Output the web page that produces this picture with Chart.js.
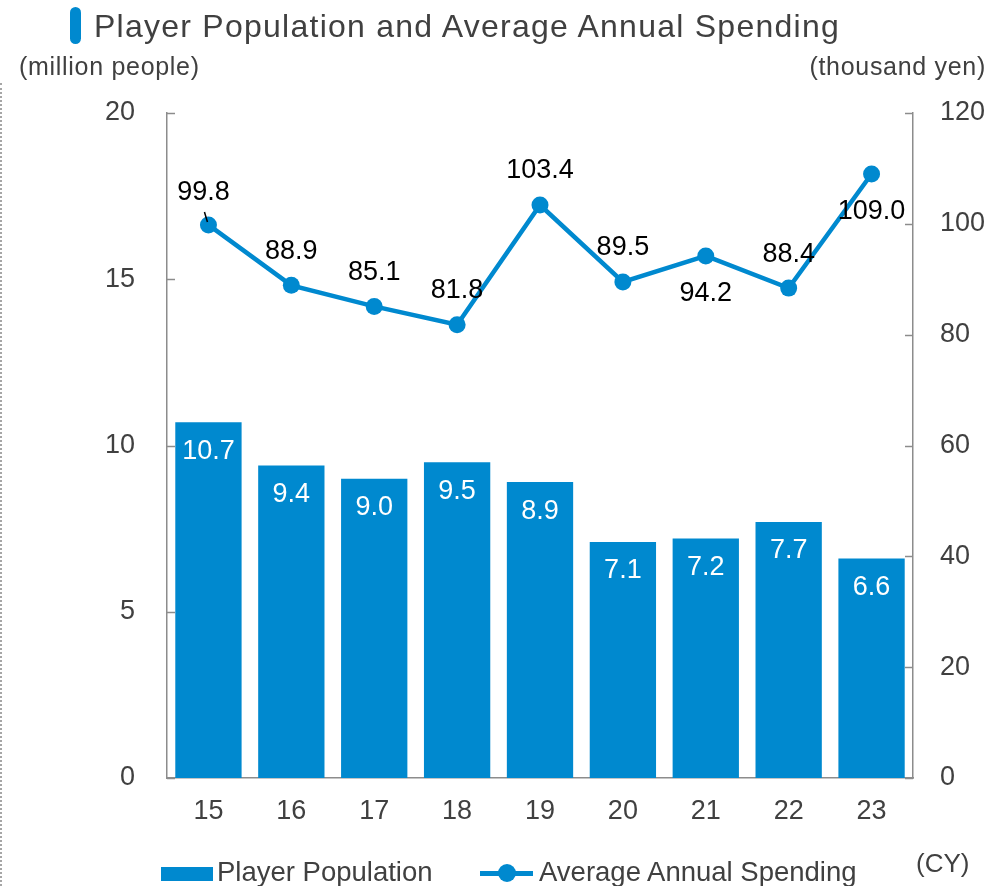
<!DOCTYPE html>
<html>
<head>
<meta charset="utf-8">
<title>Player Population and Average Annual Spending</title>
<script src="https://cdn.jsdelivr.net/npm/chart.js@4/dist/chart.umd.min.js"></script>
<style>
  html, body { margin: 0; padding: 0; background: #fff; }
  #wrap { position: relative; width: 991px; height: 886px; overflow: hidden; font-family: 'Liberation Sans', Arial, Helvetica, sans-serif; }
  #chart { position: absolute; left: 0; top: 0; }
  .txt { position: absolute; white-space: nowrap; color: #404040; }
  #frameLine { position: absolute; left: 0; top: 83px; height: 803px; width: 0; border-left: 2px dotted #a6a6a6; }
  #titleMark { position: absolute; left: 70px; top: 7px; width: 11px; height: 37px; border-radius: 6px; background: #0089cf; }
  #title { left: 94px; top: 10px; font-size: 32px; line-height: 32px; letter-spacing: 1.25px; }
  #unitLeft { left: 19px; top: 54px; font-size: 25px; line-height: 25px; letter-spacing: 0.7px; }
  #unitRight { right: 5px; top: 54px; font-size: 25px; line-height: 25px; letter-spacing: 0.7px; }
  #unitCY { left: 916px; top: 850px; font-size: 26px; line-height: 26px; }
  .legText { font-size: 27.5px; line-height: 27.5px; top: 858px; }
  #legBar { position: absolute; left: 161px; top: 867px; width: 52px; height: 14px; background: #0089cf; }
  #legLine { position: absolute; left: 480px; top: 871px; width: 53px; height: 4.5px; background: #0089cf; }
  #legDot { position: absolute; left: 498px; top: 864px; width: 18px; height: 18px; border-radius: 50%; background: #0089cf; }
</style>
</head>
<body>
<div id="wrap">
  <canvas id="chart" width="991" height="886"></canvas>
  <div id="frameLine"></div>
  <div id="titleMark"></div>
  <div class="txt" id="title">Player Population and Average Annual Spending</div>
  <div class="txt" id="unitLeft">(million people)</div>
  <div class="txt" id="unitRight">(thousand yen)</div>
  <div class="txt" id="unitCY">(CY)</div>
  <div id="legBar"></div>
  <div class="txt legText" style="left:217px;">Player Population</div>
  <div id="legLine"></div>
  <div id="legDot"></div>
  <div class="txt legText" style="left:539px;">Average Annual Spending</div>
</div>
<script>
// Calendar years (last two digits)
const years = ['15', '16', '17', '18', '19', '20', '21', '22', '23'];
// Player population, million people
const playerPopulation = [10.7, 9.4, 9.0, 9.5, 8.9, 7.1, 7.2, 7.7, 6.6];
// Average annual spending per player, thousand yen
const averageSpending = [99.8, 88.9, 85.1, 81.8, 103.4, 89.5, 94.2, 88.4, 109.0];
// Axis ranges and tick steps
const populationAxis = { min: 0, max: 20, step: 5 };
const spendingAxis = { min: 0, max: 120, step: 20 };

const BLUE = '#0089cf';
const AXIS_GRAY = '#8c8c8c';
const TEXT_GRAY = '#404040';
const FONT = "'Liberation Sans', Arial, Helvetica, sans-serif";

// Short tick marks pointing into the plot on both value axes
const innerTicks = {
  id: 'innerTicks',
  afterDraw(chart) {
    const ctx = chart.ctx;
    ctx.save();
    ctx.strokeStyle = AXIS_GRAY;
    ctx.lineWidth = 1.5;
    const len = 8;
    [['y', 1], ['y1', -1]].forEach(([id, dir]) => {
      const s = chart.scales[id];
      const x0 = dir > 0 ? s.right : s.left;
      s.ticks.forEach((t) => {
        const y = Math.round(s.getPixelForValue(t.value)) + 0.5;
        ctx.beginPath();
        ctx.moveTo(x0, y);
        ctx.lineTo(x0 + dir * len, y);
        ctx.stroke();
      });
    });
    ctx.restore();
  }
};

// Value labels: inside the top of each bar, and beside each line point
const valueLabels = {
  id: 'valueLabels',
  afterDatasetsDraw(chart, args, opts) {
    const ctx = chart.ctx;
    ctx.save();
    ctx.textAlign = 'center';
    ctx.textBaseline = 'middle';
    ctx.font = '27px ' + FONT;

    const barMeta = chart.getDatasetMeta(1);
    ctx.fillStyle = '#ffffff';
    barMeta.data.forEach((bar, i) => {
      const v = chart.data.datasets[1].data[i];
      ctx.fillText(v.toFixed(1), bar.x, bar.y + 29);
    });

    const lineMeta = chart.getDatasetMeta(0);
    ctx.fillStyle = '#000000';
    lineMeta.data.forEach((pt, i) => {
      const v = chart.data.datasets[0].data[i];
      const below = opts.below.includes(i);
      const dx = opts.nudgeX[i] || 0;
      const dy = below ? 38 : (opts.nudgeY[i] !== undefined ? opts.nudgeY[i] : -34);
      ctx.fillText(v.toFixed(1), pt.x + dx, pt.y + dy);
      if (opts.leader.includes(i)) {
        ctx.strokeStyle = '#000000';
        ctx.lineWidth = 1.5;
        ctx.beginPath();
        ctx.moveTo(pt.x - 4, pt.y - 13);
        ctx.lineTo(pt.x - 1, pt.y - 3);
        ctx.stroke();
      }
    });
    ctx.restore();
  }
};

const tickFont = { family: FONT, size: 27 };

new Chart(document.getElementById('chart'), {
  data: {
    labels: years,
    datasets: [
      {
        type: 'line',
        label: 'Average Annual Spending',
        data: averageSpending,
        yAxisID: 'y1',
        borderColor: BLUE,
        backgroundColor: BLUE,
        borderWidth: 4.5,
        pointRadius: 8.5,
        pointBackgroundColor: BLUE,
        pointBorderWidth: 0,
        tension: 0,
        order: 0
      },
      {
        type: 'bar',
        label: 'Player Population',
        data: playerPopulation,
        yAxisID: 'y',
        backgroundColor: BLUE,
        borderWidth: 0,
        categoryPercentage: 1.0,
        barPercentage: 0.8,
        order: 1
      }
    ]
  },
  options: {
    responsive: false,
    animation: false,
    layout: { padding: { top: 113, left: 0, right: 0, bottom: 0 } },
    plugins: {
      legend: { display: false },
      title: { display: false },
      tooltip: { enabled: false },
      valueLabels: { below: [6, 8], nudgeX: { 0: -5 }, nudgeY: { 0: -32 }, leader: [0] }
    },
    scales: {
      x: {
        offset: true,
        grid: { display: false, drawTicks: false },
        border: { display: true, color: AXIS_GRAY, width: 1.5 },
        ticks: { color: TEXT_GRAY, font: tickFont, padding: 17, maxRotation: 0 },
        afterFit(s) { s.height = 108; }
      },
      y: {
        position: 'left',
        min: populationAxis.min,
        max: populationAxis.max,
        grid: { display: false, drawTicks: false },
        border: { display: true, color: AXIS_GRAY, width: 1.5 },
        ticks: { stepSize: populationAxis.step, color: TEXT_GRAY, font: tickFont, padding: 32 },
        afterFit(s) { s.width = 167; }
      },
      y1: {
        position: 'right',
        min: spendingAxis.min,
        max: spendingAxis.max,
        grid: { display: false, drawTicks: false },
        border: { display: true, color: AXIS_GRAY, width: 1.5 },
        ticks: { stepSize: spendingAxis.step, color: TEXT_GRAY, font: tickFont, padding: 27 },
        afterFit(s) { s.width = 78; }
      }
    }
  },
  plugins: [innerTicks, valueLabels]
});
</script>
</body>
</html>
